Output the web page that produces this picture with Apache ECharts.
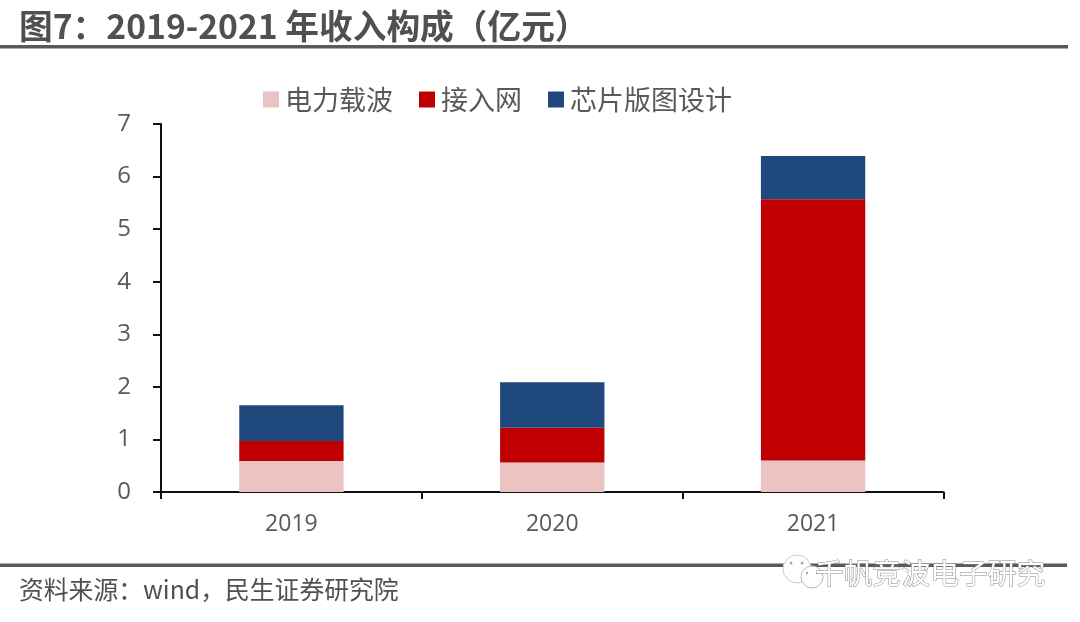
<!DOCTYPE html>
<html><head><meta charset="utf-8">
<style>html,body{margin:0;padding:0;background:#fff}#c{width:1080px;height:622px}</style>
<script src="https://cdn.jsdelivr.net/npm/echarts@6/dist/echarts.min.js"></script>
</head><body><div id="c"></div>
<script>
const categories = ['2019','2020','2021'];
const powerCarrier = [0.59,0.56,0.60];
const accessNet = [0.38,0.66,4.97];
const chipLayout = [0.68,0.87,0.82];
const yTicks = [0,7,1];
const cjk = '"Noto Sans CJK SC","Noto Sans",sans-serif';
const latin = '"Open Sans","Noto Sans CJK SC",sans-serif';
const chart = echarts.init(document.getElementById('c'));
const bar = (name,data,color)=>({name,type:'bar',stack:'t',data,barWidth:'40%',itemStyle:{color},emphasis:{disabled:true},animation:false});
chart.setOption({
  animation:false,
  backgroundColor:'#fff',
  title:[
    {text:'图7\uFF1A2019-2021 年收入构成\uFF08亿元\uFF09',left:14,top:4,textStyle:{fontFamily:cjk,fontSize:33.7,fontWeight:'bold',color:'#505050'}},
    {text:'资料来源\uFF1Awind\uFF0C民生证券研究院',left:14,top:572,textStyle:{fontFamily:cjk,fontSize:24.8,fontWeight:'normal',color:'#505050'}}
  ],
  legend:{left:258,top:81,itemWidth:16,itemHeight:16,itemGap:26,icon:'rect',
    textStyle:{fontFamily:cjk,fontSize:27,color:'#595959',padding:[0,0,0,1]},
    data:['电力载波','接入网','芯片版图设计']},
  grid:{left:161,top:124,width:782.5,height:368,containLabel:false},
  xAxis:{type:'category',data:categories,
    axisLine:{lineStyle:{color:'#111',width:2}},
    axisTick:{show:true,length:7,lineStyle:{color:'#111',width:2},alignWithLabel:false},
    axisLabel:{fontFamily:latin,fontSize:23,color:'#595959',margin:21}},
  yAxis:{type:'value',min:yTicks[0],max:yTicks[1],interval:yTicks[2],
    splitLine:{show:false},
    axisLine:{show:true,lineStyle:{color:'#111',width:2}},
    axisTick:{show:true,length:8,inside:false,lineStyle:{color:'#111',width:2}},
    axisLabel:{fontFamily:latin,fontSize:24,color:'#595959',margin:30,padding:[7,0,0,0]}},
  series:[bar('电力载波',powerCarrier,'#ECC3C3'),bar('接入网',accessNet,'#C00000'),bar('芯片版图设计',chipLayout,'#1F497D')],
  graphic:[
    {type:'rect',z:1,shape:{x:0,y:45,width:1068,height:3.5},style:{fill:'#595959'}},
    {type:'rect',z:1,shape:{x:0,y:563.5,width:1067,height:3.5},style:{fill:'#595959'}},
    {type:'circle',z:5,shape:{cx:797,cy:569,r:14},style:{fill:'#fff',stroke:'#ccc',lineWidth:1}},
    {type:'circle',z:5,shape:{cx:812,cy:577,r:11},style:{fill:'#fff',stroke:'#bbb',lineWidth:1}},
    {type:'circle',z:6,shape:{cx:791,cy:563,r:1.5},style:{fill:'#aaa'}},
    {type:'circle',z:6,shape:{cx:802,cy:563,r:1.5},style:{fill:'#aaa'}},
    {type:'circle',z:6,shape:{cx:807,cy:573,r:1.2},style:{fill:'#aaa'}},
    {type:'circle',z:6,shape:{cx:817,cy:573,r:1.2},style:{fill:'#aaa'}},
    {type:'text',z:6,x:815,y:559,style:{text:'千帆竞波电子研究',font:'400 28.8px '+cjk,fill:'#fff',stroke:'#8a8a8a',lineWidth:1}}
  ]
});
</script></body></html>
